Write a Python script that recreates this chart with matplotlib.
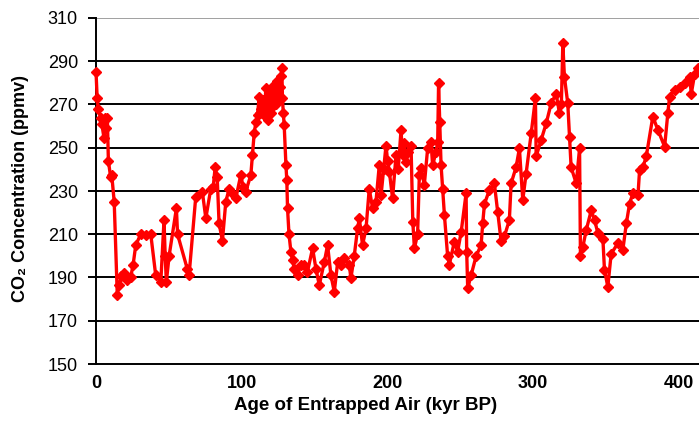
import matplotlib
matplotlib.use("Agg")
import matplotlib.pyplot as plt
import numpy as np

plt.rcParams['font.family'] = ['Liberation Sans', 'DejaVu Sans']

# Vostok ice core CO2 record: (age in kyr BP, CO2 in ppmv), split by glacial cycle
cycle_1 = [
    (0.0, 285.2), (0.8, 273.0), (1.5, 268.0), (3.2, 263.6), (4.0, 261.0),
    (5.5, 254.5), (6.2, 263.6), (7.2, 259.0), (7.8, 263.6), (8.5, 244.0),
    (10.0, 236.6), (10.8, 237.5), (12.5, 225.0), (14.6, 182.0), (15.8, 186.5),
    (17.5, 190.5), (19.2, 192.0), (21.0, 189.0), (23.8, 190.0), (25.5, 196.0),
    (27.3, 205.0), (30.7, 210.0), (34.0, 209.5), (37.6, 210.0), (41.0, 191.0),
    (44.5, 188.0), (46.7, 216.6), (47.5, 200.0), (48.3, 188.0), (50.2, 200.0),
    (55.2, 222.0), (56.0, 210.0), (62.7, 194.0), (63.9, 191.0), (68.5, 227.4),
    (73.0, 229.7), (75.4, 217.4), (78.8, 231.0), (80.5, 232.0), (81.8, 241.0),
    (83.2, 236.6), (84.5, 215.0), (86.8, 207.0), (89.1, 225.0), (91.4, 231.0),
    (93.5, 229.0), (96.0, 226.6), (99.4, 237.4), (101.0, 232.0), (102.8, 229.7),
    (106.3, 237.4), (107.4, 246.6), (108.6, 256.7), (109.8, 262.0), (110.9, 265.0),
    (112.0, 273.6), (112.8, 266.0), (113.5, 268.0), (114.5, 272.0), (115.5, 265.0),
    (116.0, 270.0), (116.6, 277.5), (117.5, 270.0), (118.0, 263.0), (118.5, 275.0),
    (119.3, 268.0), (120.0, 266.0), (121.0, 276.0), (121.6, 271.0), (122.3, 279.0),
    (123.0, 274.0), (123.5, 270.0), (124.5, 281.0), (125.2, 276.0), (125.8, 273.0),
    (126.5, 278.0), (127.0, 283.0), (127.6, 286.7), (128.0, 273.0), (128.6, 266.0),
    (129.2, 260.5),
]
cycle_2 = [
    (130.4, 242.0), (131.0, 235.0), (131.5, 222.0), (132.5, 210.0), (133.8, 202.0),
    (135.0, 198.0), (136.1, 194.0), (138.4, 191.0), (140.5, 196.0), (142.9, 196.0),
    (145.2, 192.7), (148.7, 203.5), (151.0, 194.0), (153.3, 186.5), (156.7, 197.0),
    (159.0, 205.0), (161.3, 191.0), (163.6, 183.4), (165.9, 197.0), (168.0, 196.0),
    (170.4, 199.0), (173.9, 196.0), (175.0, 189.6), (177.3, 200.0), (179.6, 212.7),
    (180.8, 217.4), (183.0, 205.0), (185.4, 212.7), (187.6, 231.0), (189.9, 222.0),
    (192.2, 225.0), (194.5, 242.0), (195.7, 228.0), (197.5, 240.0), (199.1, 251.0),
    (200.2, 244.0), (201.4, 239.0), (203.6, 226.6), (206.0, 246.6), (207.5, 240.0),
    (209.4, 258.0), (210.5, 246.6), (211.5, 252.0), (212.9, 243.5), (214.5, 248.0),
    (216.3, 251.0), (217.5, 215.8), (218.6, 203.5), (220.8, 210.0), (222.0, 237.4),
    (223.2, 240.5), (225.4, 232.8), (227.7, 249.7), (230.0, 252.8), (231.1, 242.0),
    (233.5, 248.0), (234.6, 252.8), (235.2, 279.8), (236.0, 262.0), (236.9, 242.0),
    (238.0, 231.0), (239.2, 219.0),
]
cycle_3 = [
    (241.4, 200.0), (242.6, 196.0), (246.0, 206.5), (248.3, 202.0), (250.7, 211.0),
    (254.1, 229.0), (254.5, 202.0), (255.2, 185.0), (257.5, 191.0), (261.0, 200.0),
    (264.4, 205.0), (265.5, 215.0), (266.7, 224.0), (270.1, 230.5), (273.5, 233.5),
    (275.8, 220.4), (278.1, 207.0), (280.4, 209.0), (283.8, 216.6), (285.0, 233.5),
    (288.4, 241.0), (290.7, 249.7), (293.0, 225.8), (295.3, 238.0), (298.8, 256.7),
    (301.7, 272.9), (302.2, 246.0), (305.6, 253.6), (309.1, 261.3), (312.5, 270.5),
    (315.9, 275.0), (318.2, 266.0), (319.5, 270.0), (320.5, 298.3), (321.6, 282.8),
    (323.9, 270.5), (325.1, 255.0), (326.2, 241.0), (329.7, 233.5), (332.0, 249.7),
]
cycle_4 = [
    (332.6, 200.0), (334.2, 204.0), (336.6, 212.0), (340.0, 221.0), (342.3, 216.6),
    (344.6, 210.4), (348.0, 208.0), (349.1, 193.5), (351.4, 185.7), (353.7, 201.0),
    (358.3, 205.8), (361.7, 202.7), (364.1, 215.0), (366.3, 224.0), (368.6, 229.0),
    (372.1, 228.0), (373.2, 239.7), (375.5, 241.0), (377.8, 246.0), (382.3, 264.4),
    (385.8, 258.2), (390.4, 250.5), (392.6, 266.0), (393.8, 273.6), (397.3, 276.7),
    (400.7, 278.3), (404.1, 279.8), (407.6, 282.8), (408.7, 275.0), (411.0, 284.0),
    (413.3, 287.0),
]

record = np.array(cycle_1 + cycle_2 + cycle_3 + cycle_4)
age, co2 = record[:, 0], record[:, 1]

fig = plt.figure(figsize=(6.99, 4.23), dpi=100)
ax = fig.add_axes([96 / 699, 59 / 423, 1 - 96 / 699, 346 / 423])

ax.plot(age, co2, color='red', lw=2.4, marker='D', ms=5.2,
        markeredgecolor='red', markerfacecolor='red', clip_on=False, zorder=3)

ax.set_xlim(0, 414)
ax.set_ylim(150, 310)
ax.set_yticks(np.arange(150, 311, 20))
ax.set_xticks([0, 100, 200, 300, 400])

for y in range(170, 300, 20):
    ax.axhline(y, color='black', lw=1.4, zorder=1)
ax.axhline(310, color='#a0a0a0', lw=1.4, zorder=1)

for side in ['top', 'right']:
    ax.spines[side].set_visible(False)
ax.spines['left'].set_linewidth(1.4)
ax.spines['bottom'].set_linewidth(1.4)

ax.tick_params(axis='y', direction='out', length=6, width=1.4, pad=7,
               labelsize=13)
ax.tick_params(axis='x', length=0, pad=8, labelsize=13)
for lbl in ax.get_xticklabels():
    lbl.set_fontweight('bold')

# axis titles placed in figure pixels
fig.text(21 / 699, 1 - 189 / 423, 'CO₂ Concentration (ppmv)',
         fontsize=13, fontweight='bold', rotation=90, ha='center', va='center')
fig.text(366 / 699, 1 - 405 / 423, 'Age of Entrapped Air (kyr BP)',
         fontsize=13.5, fontweight='bold', ha='center', va='center')

fig.savefig('out.png', dpi=100)
